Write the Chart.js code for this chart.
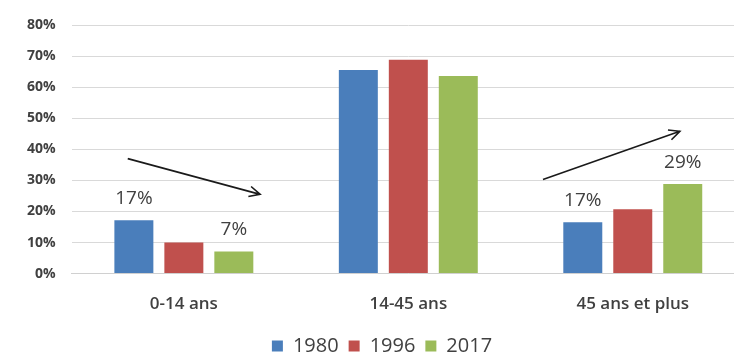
<!DOCTYPE html>
<html>
<head>
<meta charset="utf-8">
<script src="https://cdn.jsdelivr.net/npm/chart.js@4"></script>
<style>
  html, body { margin: 0; padding: 0; background: #fff; overflow: hidden; }
  #wrap { width: 745px; height: 352px; }
</style>
</head>
<body>
<div id="wrap"><canvas id="myChart" width="745" height="352"></canvas></div>
<script>
const categories = ["0-14 ans", "14-45 ans", "45 ans et plus"];
const years = ["1980", "1996", "2017"];
const values1980 = [17.2, 65.5, 16.5];
const values1996 = [10, 68.8, 20.7];
const values2017 = [7.1, 63.6, 28.8];
// texte affiché au-dessus des barres (vide = rien)
const labels1980 = ["17%", "", "17%"];
const labels1996 = ["", "", ""];
const labels2017 = ["7%", "", "29%"];
const yTicks = [0, 10, 20, 30, 40, 50, 60, 70, 80];
// flèches : [x début (index catégorie), y début (%), x fin, y fin]
const arrows = [
	[-0.25, 37, 0.34, 25.5],
	[1.6, 30.3, 2.21, 45.8],
];

const colors = ["#4a7ebb", "#c0504d", "#9bbb59"];
const textColor = "#404040";

const extrasPlugin = {
	id: "extras",
	afterDatasetsDraw(chart) {
		const ctx = chart.ctx;
		const xs = chart.scales.x;
		const ys = chart.scales.y;
		const allLabels = [labels1980, labels1996, labels2017];

		ctx.save();
		ctx.fillStyle = textColor;
		ctx.font = "19px 'Open Sans', sans-serif";
		ctx.textAlign = "center";
		ctx.textBaseline = "bottom";
		allLabels.forEach((lbls, di) => {
			const meta = chart.getDatasetMeta(di);
			lbls.forEach((txt, i) => {
				if (!txt) return;
				const bar = meta.data[i];
				ctx.fillText(txt, bar.x, bar.y - 12);
			});
		});

		ctx.strokeStyle = "#1a1a1a";
		ctx.lineWidth = 1.6;
		arrows.forEach((a) => {
			const x1 = xs.getPixelForValue(a[0]);
			const y1 = ys.getPixelForValue(a[1]);
			const x2 = xs.getPixelForValue(a[2]);
			const y2 = ys.getPixelForValue(a[3]);
			const ang = Math.atan2(y2 - y1, x2 - x1);
			const head = 12;
			ctx.beginPath();
			ctx.moveTo(x1, y1);
			ctx.lineTo(x2, y2);
			ctx.moveTo(x2 - head * Math.cos(ang - 0.45), y2 - head * Math.sin(ang - 0.45));
			ctx.lineTo(x2, y2);
			ctx.lineTo(x2 - head * Math.cos(ang + 0.45), y2 - head * Math.sin(ang + 0.45));
			ctx.stroke();
		});
		ctx.restore();
	},
};

const ctx = document.getElementById("myChart").getContext("2d");
const myChart = new Chart(ctx, {
	type: "bar",
	data: {
		labels: categories,
		datasets: [
			{ label: years[0], data: values1980, backgroundColor: colors[0] },
			{ label: years[1], data: values1996, backgroundColor: colors[1] },
			{ label: years[2], data: values2017, backgroundColor: colors[2] },
		],
	},
	options: {
		responsive: false,
		animation: false,
		layout: { padding: { left: 19, right: 0, top: 25, bottom: -14 } },
		datasets: {
			bar: { barPercentage: 0.78, categoryPercentage: 0.668 },
		},
		scales: {
			x: {
				grid: { display: false },
				border: { color: "#d0d0d0" },
				ticks: {
					color: textColor,
					font: { family: "'Open Sans', sans-serif", size: 17, weight: "600" },
					padding: 12,
				},
			},
			y: {
				min: 0,
				max: 80,
				afterBuildTicks(axis) {
					axis.ticks = yTicks.map((v) => ({ value: v }));
				},
				grid: { color: "#d9d9d9", drawTicks: true, tickLength: 8, tickColor: "#fff" },
				border: { display: false },
				ticks: {
					color: textColor,
					font: { family: "'Open Sans', sans-serif", size: 14, weight: "bold" },
					padding: 8,
					callback: (v) => v + "%",
				},
			},
		},
		plugins: {
			legend: {
				position: "bottom",
				labels: {
					color: textColor,
					font: { family: "'Open Sans', sans-serif", size: 20 },
					boxWidth: 11,
					boxHeight: 11,
					padding: 10,
				},
			},
			tooltip: { enabled: false },
		},
	},
	plugins: [extrasPlugin],
});
</script>
</body>
</html>
